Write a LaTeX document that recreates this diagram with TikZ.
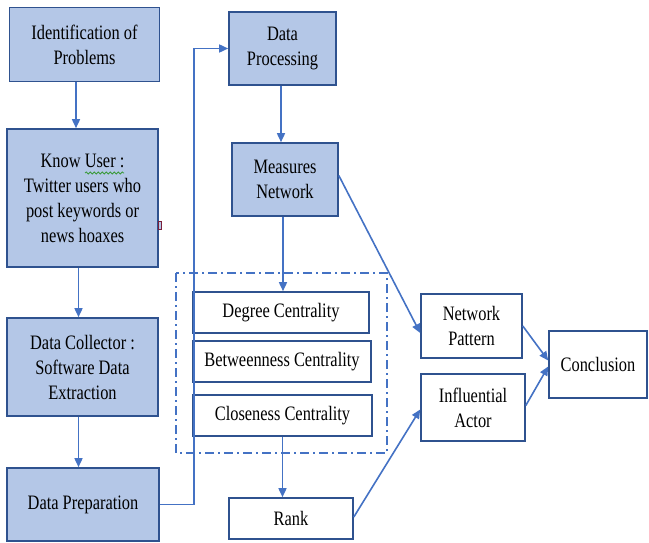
\documentclass[tikz,border=0pt]{standalone}
\usepackage{fontspec}
\setmainfont{Liberation Serif}[FakeStretch=0.8]
\usetikzlibrary{arrows.meta,decorations.pathmorphing}
\definecolor{boxfill}{HTML}{B4C7E7}
\definecolor{boxline}{HTML}{2F528F}
\definecolor{conn}{HTML}{4472C4}
\definecolor{wavy}{HTML}{3A9A3A}
\definecolor{markred}{HTML}{7A1F3A}
\tikzset{
  base/.style={rectangle, draw=boxline, line width=1.6pt, align=center, inner sep=0pt,
    font=\fontsize{20.5}{25}\selectfont},
  bluebox/.style={base, fill=boxfill},
  whitebox/.style={base, fill=white},
  arr/.style={draw=conn, line width=1.6pt, -{Triangle[length=9pt,width=8pt]}},
  group/.style={draw=conn, line width=1.5pt, dash pattern=on 9pt off 4pt on 2pt off 4pt}
}
\begin{document}
\begin{tikzpicture}[x=1pt,y=-1pt]
\useasboundingbox (0,0) rectangle (649,543);
% dashed group
\draw[group] (176,273) rectangle (387,453);
% left column
\node[bluebox, minimum width=150pt, minimum height=74pt] (ident) at (84.5,44.5) {Identification of\\Problems};
\node[bluebox, minimum width=151pt, minimum height=138pt] (know) at (82.5,198) {Know User :\\Twitter users who\\post keywords or\\news hoaxes};
\node[bluebox, minimum width=151pt, minimum height=98pt] (coll) at (82.5,367) {Data Collector :\\Software Data\\Extraction};
\node[bluebox, minimum width=152pt, minimum height=73pt] (prep) at (83,504.5) {Data Preparation};
% middle column
\node[bluebox, minimum width=107pt, minimum height=73pt] (proc) at (282.5,48.5) {Data\\Processing};
\node[bluebox, minimum width=106pt, minimum height=73pt] (meas) at (285,179.5) {Measures\\Network};
\node[whitebox, minimum width=176pt, minimum height=41pt] (deg) at (281,312.5) {Degree Centrality};
\node[whitebox, minimum width=178pt, minimum height=41pt] (betw) at (282,361.5) {Betweenness Centrality};
\node[whitebox, minimum width=179pt, minimum height=41pt] (clos) at (282.5,415.5) {Closeness Centrality};
\node[whitebox, minimum width=124pt, minimum height=41pt] (rank) at (291,518.5) {Rank};
% right column
\node[whitebox, minimum width=101pt, minimum height=64pt] (netp) at (471.5,326) {Network\\Pattern};
\node[whitebox, minimum width=104pt, minimum height=67pt] (infl) at (473,407.5) {Influential\\Actor};
\node[whitebox, minimum width=98pt, minimum height=67pt] (concl) at (598,364.5) {Conclusion};
% spell-check wave and small mark
\draw[wavy, line width=0.8pt, decorate, decoration={snake, amplitude=1pt, segment length=4pt}] (85,173) -- (124,173);
\draw[markred, line width=1pt, fill=boxfill] (158.5,221) rectangle (161,229);
% connectors
\draw[arr] ([xshift=-8.5pt]ident.south) -- ([xshift=-8.5pt]ident.south |- know.north);
\draw[arr] ([xshift=-4pt]know.south) -- ([xshift=-4pt]know.south |- coll.north);
\draw[arr] ([xshift=-4pt]coll.south) -- ([xshift=-4pt]coll.south |- prep.north);
\draw[arr] (prep.east) -- ++(34,0) |- (proc.west);
\draw[arr] ([xshift=-1.5pt]proc.south) -- ([xshift=-1.5pt]proc.south |- meas.north);
\draw[arr] ([xshift=-2pt]meas.south) -- ([xshift=-2pt]meas.south |- deg.north);
\draw[arr] (clos.south) -- (clos.south |- rank.north);
\draw[arr] ([yshift=4pt]meas.east) -- ([yshift=-7pt]netp.west);
\draw[arr] ([yshift=1.5pt]rank.east) -- ([yshift=-2pt]infl.west);
\draw[arr] (netp.east) -- ([yshift=4pt]concl.west);
\draw[arr] ([yshift=2pt]infl.east) -- ([yshift=-2pt]concl.west);
\end{tikzpicture}
\end{document}
